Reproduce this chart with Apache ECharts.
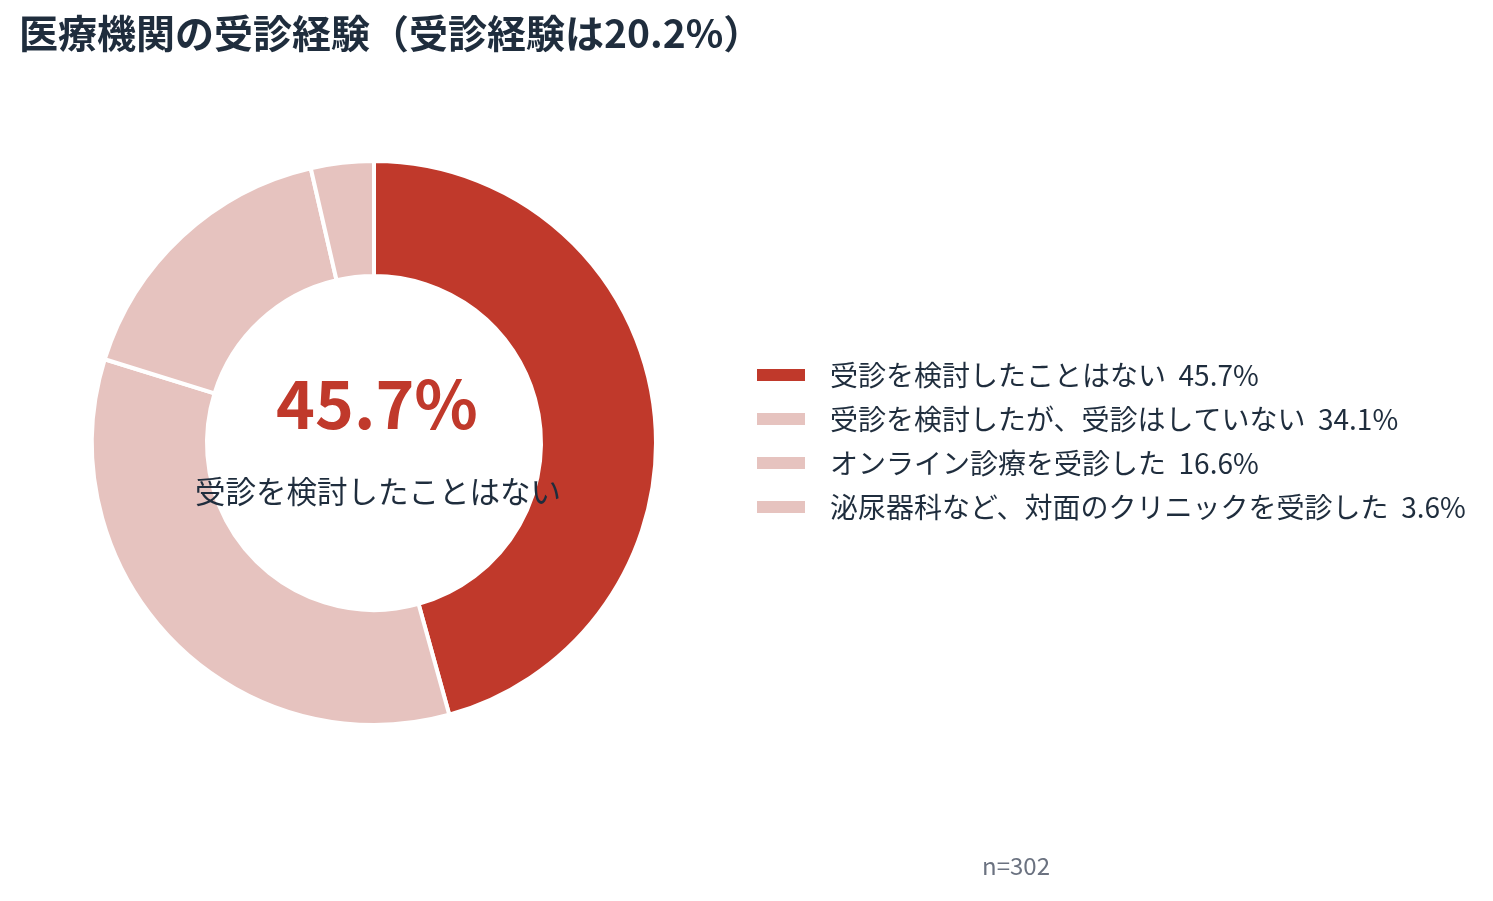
<!DOCTYPE html>
<html>
<head>
<meta charset="utf-8">
<script src="https://cdn.jsdelivr.net/npm/echarts@6/dist/echarts.min.js"></script>
<style>
  html, body { margin: 0; padding: 0; background: #fff; }
  #chart { width: 1493px; height: 901px; }
</style>
</head>
<body>
<div id="chart"></div>
<script>
// data
const categories = [
  '受診を検討したことはない',
  '受診を検討したが、受診はしていない',
  'オンライン診療を受診した',
  '泌尿器科など、対面のクリニックを受診した'
];
const values = [45.7, 34.1, 16.6, 3.6];
const colors = ['#c0392b', '#e6c3bf', '#e6c3bf', '#e6c3bf'];
const titleText = '医療機関の受診経験（受診経験は20.2%）';
const sampleText = 'n=302';

const font = '"Noto Sans CJK JP", "Noto Sans", sans-serif';

var chartDom = document.getElementById('chart');
var myChart = echarts.init(chartDom);

let pieData = categories.map((c, i) => ({
  name: c,
  value: values[i],
  itemStyle: { color: colors[i] }
}));

var option = {
  backgroundColor: '#ffffff',
  animation: false,
  title: [
    {
      text: titleText,
      left: 19,
      top: 14,
      padding: 0,
      textStyle: { fontFamily: font, fontSize: 39, fontWeight: 'bold', color: '#1f2d3d' }
    },
    {
      text: values[0].toFixed(1) + '%',
      left: 372,
      top: 366,
      textAlign: 'center',
      textStyle: { fontFamily: font, fontSize: 66, fontWeight: 'bold', color: '#c0392b' }
    },
    {
      text: categories[0],
      left: 373,
      top: 471,
      textAlign: 'center',
      textStyle: { fontFamily: font, fontSize: 30.5, fontWeight: 'normal', color: '#1f2d3d' }
    },
    {
      text: sampleText,
      left: 1011,
      top: 849,
      textAlign: 'center',
      textStyle: { fontFamily: font, fontSize: 24, fontWeight: 'normal', color: '#6b7280' }
    }
  ],
  legend: {
    orient: 'vertical',
    left: 755,
    top: 361,
    padding: 0,
    itemWidth: 50,
    itemHeight: 14,
    itemGap: 16,
    icon: 'rect',
    textStyle: { fontFamily: font, fontSize: 28, lineHeight: 28, color: '#1f2d3d', padding: [0, 0, 0, 19] },
    formatter: function (name) {
      let i = categories.indexOf(name);
      return name + '  ' + values[i].toFixed(1) + '%';
    },
    data: categories
  },
  series: [
    {
      type: 'pie',
      center: [374, 443],
      radius: [167, 282],
      startAngle: 90,
      clockwise: true,
      label: { show: false },
      labelLine: { show: false },
      emphasis: { disabled: true },
      itemStyle: { borderColor: '#ffffff', borderWidth: 4 },
      data: pieData
    }
  ]
};
option && myChart.setOption(option);
</script>
</body>
</html>
